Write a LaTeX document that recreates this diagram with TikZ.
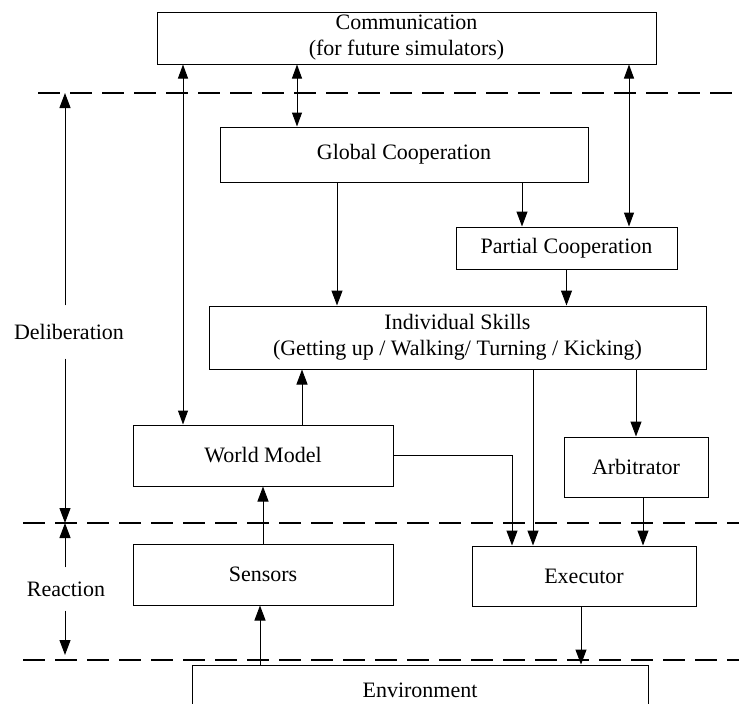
\documentclass[tikz,border=0pt]{standalone}
\usepackage{fontspec}
\setmainfont{Liberation Serif}
\usetikzlibrary{arrows.meta, positioning}

\begin{document}
\begin{tikzpicture}[
    x=1pt, y=-1pt,
    box/.style={draw, rectangle, inner sep=0pt, line width=1pt,
                align=center, font=\fontsize{22}{26}\selectfont},
    tag/.style={inner sep=0pt, font=\fontsize{22}{26}\selectfont},
    arrow/.style={-{Triangle[length=15pt, width=11pt]}, line width=1pt},
    twoway/.style={{Triangle[length=14pt, width=10pt]}-{Triangle[length=14pt, width=10pt]},
                   line width=1pt},
    layer/.style={line width=2.2pt, dash pattern=on 22pt off 10pt},
  ]
    \clip (0,0) rectangle (739,704);

    % Layer borders
    \draw[layer] (38,93) -- (739,93);
    \draw[layer] (23,523) -- (739,523);
    \draw[layer] (23,660) -- (739,660);

    % Boxes
    \node[box, minimum width=499pt, minimum height=52pt] (comm) at (406.5,38) {Communication\\(for future simulators)};
    \node[box, minimum width=368pt, minimum height=55pt] (global) at (404,154.5) {Global Cooperation};
    \node[box, minimum width=221pt, minimum height=42pt] (partial) at (566.5,248) {Partial Cooperation};
    \node[box, minimum width=497pt, minimum height=63pt] (skills) at (457.5,337.5) {Individual Skills\\(Getting up / Walking/ Turning / Kicking)};
    \node[box, minimum width=260pt, minimum height=61pt] (world) at (263,455.5) {World Model};
    \node[box, minimum width=144pt, minimum height=60pt] (arbit) at (636,467) {Arbitrator};
    \node[box, minimum width=260pt, minimum height=61pt] (sensors) at (263,574.5) {Sensors};
    \node[box, minimum width=224pt, minimum height=60pt] (exec) at (584,576) {Executor};
    \node[box, minimum width=456pt, minimum height=50pt] (env) at (420,690) {Environment};

    % Layer names
    \node[tag, minimum height=53pt] (delib) at (69,332) {Deliberation};
    \node[tag, minimum height=43pt] (react) at (66,589) {Reaction};
    \coordinate (delibtop) at (65,93);
    \coordinate (delibbot) at (65,523);
    \coordinate (reactbot) at (65,655);

    \draw[arrow] (delib.north -| delibtop) -- (delibtop);
    \draw[arrow] (delib.south -| delibbot) -- (delibbot);
    \draw[arrow] (react.north -| delibbot) -- (delibbot);
    \draw[arrow] (react.south -| reactbot) -- (reactbot);

    % Arrows
    \draw[twoway] ([xshift=-80pt]world.north) -- ([xshift=-80pt]world.north |- comm.south);
    \draw[twoway] ([xshift=-107pt]global.north) -- ([xshift=-107pt]global.north |- comm.south);
    \draw[twoway] ([xshift=62.5pt]partial.north) -- ([xshift=62.5pt]partial.north |- comm.south);
    \draw[arrow] ([xshift=-44.5pt]partial.north |- global.south) -- ([xshift=-44.5pt]partial.north);
    \draw[arrow] ([xshift=-120.5pt]skills.north |- global.south) -- ([xshift=-120.5pt]skills.north);
    \draw[arrow] (partial) -- (partial.south |- skills.north);
    \draw[arrow] ([xshift=39pt]world.north) -- ([xshift=39pt]world.north |- skills.south);
    \draw[arrow] (world.east) -| ([xshift=-72pt]exec.north);
    \draw[arrow] ([xshift=-51pt]exec.north |- skills.south) -- ([xshift=-51pt]exec.north);
    \draw[arrow] (arbit.north |- skills.south) -- (arbit);
    \draw[arrow] ([xshift=7pt]arbit.south) -- ([xshift=7pt]arbit.south |- exec.north);
    \draw[arrow] (sensors) -- (world);
    \draw[arrow] ([xshift=-3pt]sensors.south |- env.north) -- ([xshift=-3pt]sensors.south);
    \draw[arrow] ([xshift=-3pt]exec.south) -- ([xshift=-3pt]exec.south |- env.north);
  \end{tikzpicture}
\end{document}
